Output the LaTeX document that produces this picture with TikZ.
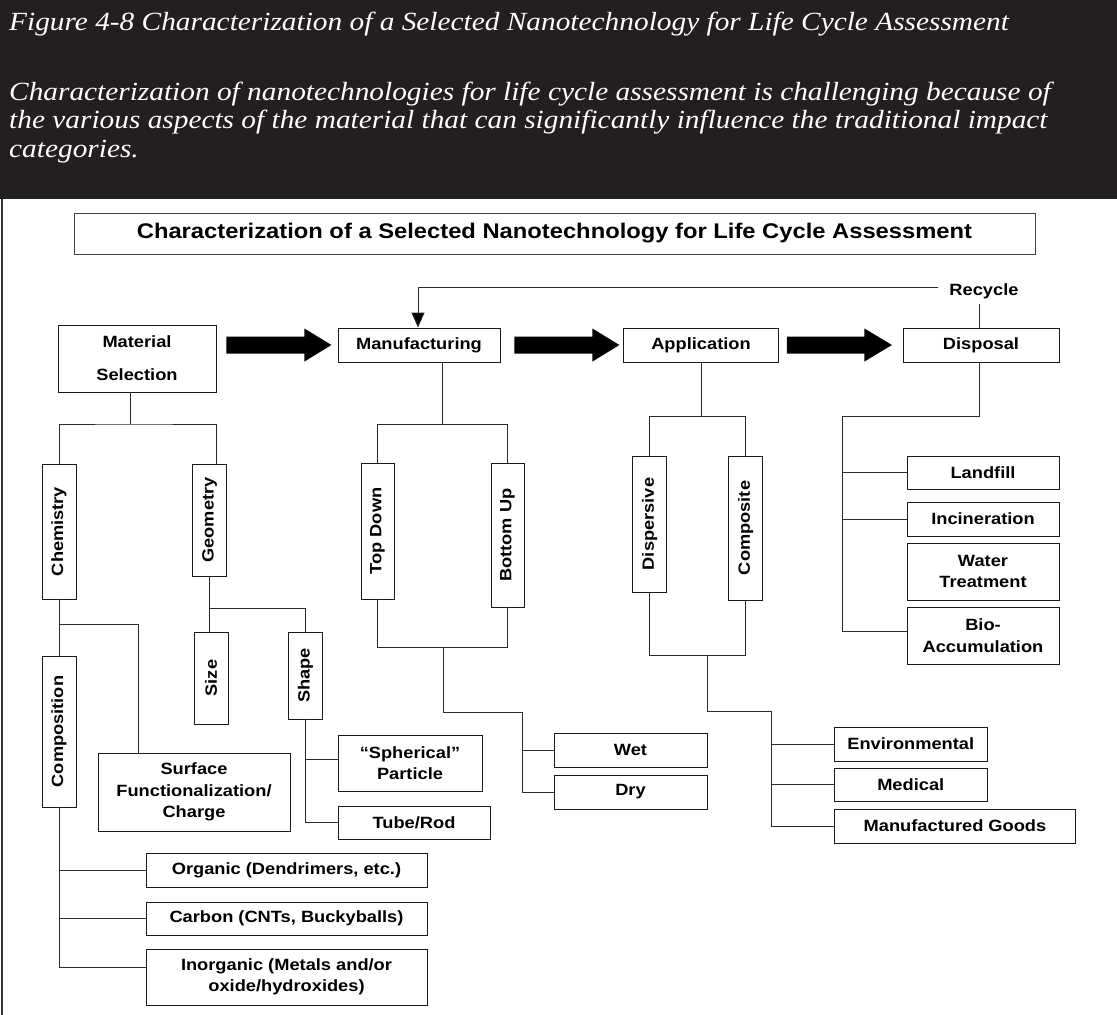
\documentclass[tikz,border=0pt]{standalone}
\usepackage{fontspec}
\usepackage{graphicx}
\usetikzlibrary{arrows.meta,calc}
\newfontfamily\hdrfont[FakeStretch=1.12]{Liberation Serif}
\newfontfamily\labfont[FakeStretch=1.12]{Liberation Sans}
\definecolor{hdrbg}{HTML}{231F20}
\definecolor{lncol}{HTML}{2A2A2A}
\begin{document}
\begin{tikzpicture}[x=1pt,y=-1pt,
  box/.style={draw=black!90, line width=0.9pt, inner sep=0pt, align=center,
    font=\labfont\bfseries\fontsize{16.3}{21.5}\selectfont},
  conn/.style={draw=lncol, line width=0.9pt},
  hdr/.style={text=white, font=\hdrfont\itshape\fontsize{26.2}{28}\selectfont,
    anchor=base west, inner sep=0pt}]
\useasboundingbox (0,0) rectangle (1117,1015);
\fill[white] (0,0) rectangle (1117,1015);
\fill[hdrbg] (0,0) rectangle (1117,199);
\draw[line width=2.5pt, black!80] (2,199) -- (2,1015);

% header texts
\node[hdr] (h1) at (9,30) {Figure 4-8 Characterization of a Selected Nanotechnology for Life Cycle Assessment};
\node[hdr] (h2) at (9,100) {Characterization of nanotechnologies for life cycle assessment is challenging because of};
\node[hdr] (h3) at (9,128.5) {the various aspects of the material that can significantly influence the traditional impact};
\node[hdr] (h4) at (9,157) {categories.};

% title box
\node[box, draw=black!75, minimum width=961pt, minimum height=41pt,
  font=\labfont\bfseries\fontsize{21.2}{24}\selectfont] (title) at (554.5,233.5)
  {Characterization of a Selected Nanotechnology for Life Cycle Assessment};

% main nodes
\node[box, minimum width=158pt, minimum height=67pt] (mat) at (137,358.5) {Material\\[11.5pt]Selection};
\node[box, minimum width=162pt, minimum height=34pt] (manu) at (419,345) {Manufacturing};
\node[box, minimum width=155pt, minimum height=34pt] (app) at (701,345) {Application};
\node[box, minimum width=156pt, minimum height=34pt] (disp) at (981,345) {Disposal};
\node[inner sep=0pt, anchor=base, font=\labfont\bfseries\fontsize{16.3}{21.5}\selectfont] (rec) at (984,295) {Recycle};

\node[box, minimum width=34pt, minimum height=135pt] (chem) at (59,531.5) {\rotatebox{90}{Chemistry}};
\node[box, minimum width=34pt, minimum height=112pt] (geom) at (209.5,520) {\rotatebox{90}{Geometry}};
\node[box, minimum width=33pt, minimum height=136pt] (td) at (377.5,531) {\rotatebox{90}{Top Down}};
\node[box, minimum width=33pt, minimum height=144pt] (bu) at (507.5,535) {\rotatebox{90}{Bottom Up}};
\node[box, minimum width=34pt, minimum height=136pt] (dis) at (649.6,524) {\rotatebox{90}{Dispersive}};
\node[box, minimum width=34pt, minimum height=144pt] (cps) at (745.7,528) {\rotatebox{90}{Composite}};
\node[box, minimum width=152pt, minimum height=33pt] (landf) at (983,472.5) {Landfill};
\node[box, minimum width=152pt, minimum height=34pt] (inc) at (983,519) {Incineration};
\node[box, minimum width=152pt, minimum height=57pt] (wat) at (983,571.5) {Water\\Treatment};
\node[box, minimum width=152pt, minimum height=57pt] (bio) at (983,635.5) {Bio-\\Accumulation};
\node[box, minimum width=34pt, minimum height=92pt] (size) at (211,678) {\rotatebox{90}{Size}};
\node[box, minimum width=33.4pt, minimum height=87pt] (shape) at (305.3,675.5) {\rotatebox{90}{Shape}};
\node[box, minimum width=34pt, minimum height=151pt] (comp) at (59,731.5) {\rotatebox{90}{Composition}};
\node[box, minimum width=192pt, minimum height=78pt] (surf) at (194,792) {Surface\\Functionalization/\\Charge};
\node[box, minimum width=144pt, minimum height=56pt] (sph) at (410,763) {“Spherical”\\Particle};
\node[box, minimum width=152pt, minimum height=33pt] (tube) at (414,822.5) {Tube/Rod};
\node[box, minimum width=153pt, minimum height=34pt] (wet) at (630.5,750) {Wet};
\node[box, minimum width=153pt, minimum height=34pt] (dry) at (630.5,792) {Dry};
\node[box, minimum width=152.5pt, minimum height=34pt] (env) at (910.75,744) {Environmental};
\node[box, minimum width=152.5pt, minimum height=33pt] (med) at (910.75,784.5) {Medical};
\node[box, minimum width=241pt, minimum height=34pt] (goods) at (955,826) {Manufactured Goods};
\node[box, minimum width=281pt, minimum height=34pt] (org) at (286.5,870) {Organic (Dendrimers, etc.)};
\node[box, minimum width=281pt, minimum height=33pt] (carb) at (286.5,918.5) {Carbon (CNTs, Buckyballs)};
\node[box, minimum width=281pt, minimum height=56pt] (inorg) at (286.5,977) {Inorganic (Metals and/or\\oxide/hydroxides)};

% big arrows
\fill[black] ($(mat.east |- manu.west)+(10,-8.5)$) -- ++(78,0) -- ++(0,-8) -- ++(27,16.5) -- ++(-27,16.5) -- ++(0,-8) -- ++(-78,0) -- cycle;
\fill[black] ($(manu.east)+(14,-8.5)$) -- ++(78,0) -- ++(0,-8) -- ++(27,16.5) -- ++(-27,16.5) -- ++(0,-8) -- ++(-78,0) -- cycle;
\fill[black] ($(app.east)+(8,-8.5)$) -- ++(77.5,0) -- ++(0,-8) -- ++(27.5,16.5) -- ++(-27.5,16.5) -- ++(0,-8) -- ++(-77.5,0) -- cycle;

% recycle
\coordinate (jd) at (979,416);
\coordinate (rl) at (938,287);
\draw[conn] (disp.north -| jd) -- ++(0,-24);
\draw[conn, -{Triangle[width=13pt,length=15pt,fill=black]}] (rl) -| (manu.north -| 418,0);

% material tree
\coordinate (jm) at (130,424);
\draw[conn] (mat.south -| jm) -- (jm);
\draw[conn] (chem.north) |- (jm) -| (geom.north -| 216,0);
\draw[conn] (geom.south) -- (geom.south |- size.north);
\draw[conn] (geom.south |- 0,608) -| (shape.north);
\draw[conn] (shape.south) |- (sph.west |- 0,759);
\draw[conn] (shape.south) |- (tube.west);
\draw[conn] (chem.south) -- (comp.north);
\draw[conn] (chem.south |- 0,624) -| (surf.north -| 138,0);
\draw[conn] (comp.south) |- (org.west);
\draw[conn] (comp.south) |- (carb.west);
\draw[conn] (comp.south) |- (inorg.west |- 0,967);

% manufacturing tree
\draw[conn] (manu.south -| 442,0) -- (442,424);
\draw[conn] (td.north) |- (bu.north |- 0,424) -- (bu.north);
\draw[conn] (td.south) |- (bu.south |- 0,647) -- (bu.south);
\coordinate (jmb) at (443,647);
\coordinate (jmc) at (522,712);
\draw[conn] (jmb) |- (jmc) |- (dry.west);
\draw[conn] (jmc) |- (wet.west);

% application tree
\draw[conn] (app.south) -- (app.south |- 0,416);
\draw[conn] (dis.north) |- (cps.north |- 0,416) -- (cps.north);
\draw[conn] (dis.south) |- (cps.south |- 0,655) -- (cps.south);
\coordinate (jab) at (707,655);
\coordinate (jac) at (771,711);
\draw[conn] (jab) |- (jac) |- (goods.west);
\draw[conn] (jac) |- (env.west);
\draw[conn] (jac) |- (med.west);

% disposal tree
\coordinate (jdl) at (842,631);
\draw[conn] (disp.south -| jd) -- (jd) -| (jdl) -- (bio.west |- jdl);
\draw[conn] (jdl |- landf.west) -- (landf.west);
\draw[conn] (jdl |- inc.west) -- (inc.west);
\end{tikzpicture}
\end{document}
